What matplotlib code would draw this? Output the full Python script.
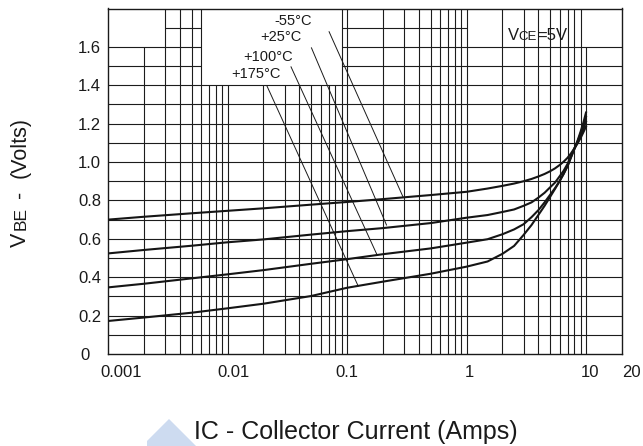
import matplotlib
matplotlib.use("Agg")
import matplotlib.pyplot as plt
from matplotlib.patches import Polygon

plt.rcParams['font.family'] = ['Liberation Sans', 'DejaVu Sans']

# collector current (A) and base-emitter voltage (V)
ic_amps = [0.001, 0.002, 0.005, 0.01, 0.02, 0.05, 0.1, 0.2, 0.5, 1, 1.5, 2, 2.5, 3,
           3.5, 4, 4.5, 5, 5.5, 6, 6.5, 7, 7.5, 8, 8.5, 9, 9.5, 10]
vbe_m55 = [0.700, 0.715, 0.733, 0.746, 0.759, 0.778, 0.792, 0.807, 0.828, 0.845, 0.862, 0.876, 0.888, 0.900,
           0.912, 0.925, 0.938, 0.952, 0.967, 0.984, 1.002, 1.022, 1.046, 1.072, 1.097, 1.125, 1.155, 1.185]
vbe_25 = [0.524, 0.542, 0.564, 0.582, 0.597, 0.622, 0.640, 0.656, 0.682, 0.710, 0.724, 0.740, 0.753, 0.772,
          0.790, 0.815, 0.840, 0.868, 0.893, 0.925, 0.955, 0.990, 1.035, 1.070, 1.103, 1.138, 1.172, 1.210]
vbe_100 = [0.347, 0.366, 0.394, 0.415, 0.437, 0.470, 0.494, 0.520, 0.550, 0.580, 0.598, 0.624, 0.649, 0.676,
           0.713, 0.750, 0.790, 0.829, 0.864, 0.900, 0.940, 0.980, 1.027, 1.070, 1.108, 1.148, 1.190, 1.235]
vbe_175 = [0.172, 0.190, 0.215, 0.238, 0.262, 0.302, 0.345, 0.377, 0.418, 0.455, 0.482, 0.522, 0.563, 0.620,
           0.672, 0.725, 0.772, 0.818, 0.860, 0.900, 0.938, 0.978, 1.025, 1.070, 1.112, 1.158, 1.205, 1.258]

temp_labels = ['-55°C', '+25°C', '+100°C', '+175°C']
label_x = [0.0355, 0.028, 0.022, 0.0173]
label_y = [1.736, 1.65, 1.548, 1.458]
leader_x0 = [0.0708, 0.0504, 0.034, 0.0214]
leader_y0 = [1.679, 1.595, 1.496, 1.396]
leader_x1 = [0.294, 0.214, 0.177, 0.124]
leader_y1 = [0.819, 0.672, 0.521, 0.354]

xtick_vals = [0.001, 0.01, 0.1, 1, 10, 20]
xtick_text = ['0.001', '0.01', '0.1', '1', '10', '20']
xtick_shift = [13, 6, 0, 3, 4, 9]   # pixels, labels are not centred on the lines
ytick_vals = [0.2, 0.4, 0.6, 0.8, 1.0, 1.2, 1.4, 1.6]

ink = '#1a1a1a'

fig = plt.figure(figsize=(6.43, 4.46), dpi=100)
ax = fig.add_axes([108 / 643, 1 - 354 / 446, 514 / 643, 345.5 / 446])
ax.set_xscale('log')
ax.set_xlim(0.001, 20)
ax.set_ylim(0, 1.8)

# grid - some regions left blank for the label boxes
grid_kw = dict(colors='#1c1c1c', linewidth=0.8, zorder=1)
for dec in [0.001, 0.01, 0.1, 1]:
    for k in range(1, 10):
        xv = dec * k
        if xv == 0.001:
            continue
        if xv < 0.0025:
            top = 1.6
        elif xv < 0.0065:
            top = 1.8
        elif xv < 0.085:
            top = 1.4
        else:
            top = 1.8
        ax.vlines(xv, 0, top, **grid_kw)
ax.vlines(10, 0, 1.6, **grid_kw)

for i in range(1, 18):
    yv = i / 10
    if i <= 14:
        ax.hlines(yv, 0.001, 20, **grid_kw)
    elif i in (15, 16):
        ax.hlines(yv, 0.001, 0.006, **grid_kw)
        ax.hlines(yv, 0.09, 20, **grid_kw)
    else:
        ax.hlines(yv, 0.003, 0.006, **grid_kw)
        ax.hlines(yv, 0.09, 1, **grid_kw)

for vals in [vbe_m55, vbe_25, vbe_100, vbe_175]:
    ax.plot(ic_amps, vals, color='#151515', linewidth=1.5, zorder=4,
            solid_joinstyle='round')

for i in range(len(temp_labels)):
    ax.text(label_x[i], label_y[i], temp_labels[i], fontsize=10.5,
            ha='center', va='center', color=ink, zorder=5)
    ax.plot([leader_x0[i], leader_x1[i]], [leader_y0[i], leader_y1[i]],
            color=ink, linewidth=0.7, zorder=3)

# V_CE = 5V with small caps on the same baseline
t1 = ax.text(2.21, 1.635, 'V', fontsize=12, va='baseline', ha='left', color=ink)
t2 = ax.annotate('CE', xy=(1, 1.635), xycoords=(t1, 'data'), fontsize=9.5,
                 va='baseline', ha='left', color=ink)
ax.annotate('=5V', xy=(1, 1.635), xycoords=(t2, 'data'), fontsize=12,
            va='baseline', ha='left', color=ink)

ax.tick_params(which='both', length=0)
ax.minorticks_off()
ax.set_xticks([])
ax.set_yticks(ytick_vals)
ax.set_yticklabels(['%.1f' % v for v in ytick_vals], fontsize=12, color=ink)
ax.tick_params(axis='y', pad=5)
for i in range(len(xtick_vals)):
    ax.annotate(xtick_text[i], xy=(xtick_vals[i], 0), xycoords=('data', 'axes fraction'),
                xytext=(xtick_shift[i], -11), textcoords='offset pixels',
                ha='center', va='top', fontsize=12, color=ink, annotation_clip=False)
ax.annotate('0', xy=(0, 0), xycoords='axes fraction', xytext=(-23, -2),
            textcoords='offset pixels', ha='center', va='center', fontsize=12,
            color=ink, annotation_clip=False)

for sp in ax.spines.values():
    sp.set_linewidth(1.0)
    sp.set_color(ink)

# axis titles
fig.text(356 / 643, 1 - 439.5 / 446, 'IC - Collector Current (Amps)', fontsize=18,
         ha='center', va='baseline', color=ink)
ylab_parts = ['V', 'BE', '-', '(Volts)']
ylab_start = [247, 230.5, 197.5, 178]      # pixel rows where each piece starts
ylab_size = [15.5, 12.5, 15.5, 15.5]
for part, py, fs in zip(ylab_parts, ylab_start, ylab_size):
    fig.text(25.5 / 643, 1 - py / 446, part, fontsize=fs, rotation=90,
             rotation_mode='anchor', ha='left', va='baseline', color=ink)

# light blue watermark corner
wm = [(169, 419), (147, 441), (147, 446), (196, 446)]
fig.patches.append(Polygon([(px / 643, 1 - py / 446) for px, py in wm], closed=True,
                           transform=fig.transFigure, facecolor='#cddbf0',
                           edgecolor='none', zorder=0))

fig.savefig('out.png', dpi=100)
